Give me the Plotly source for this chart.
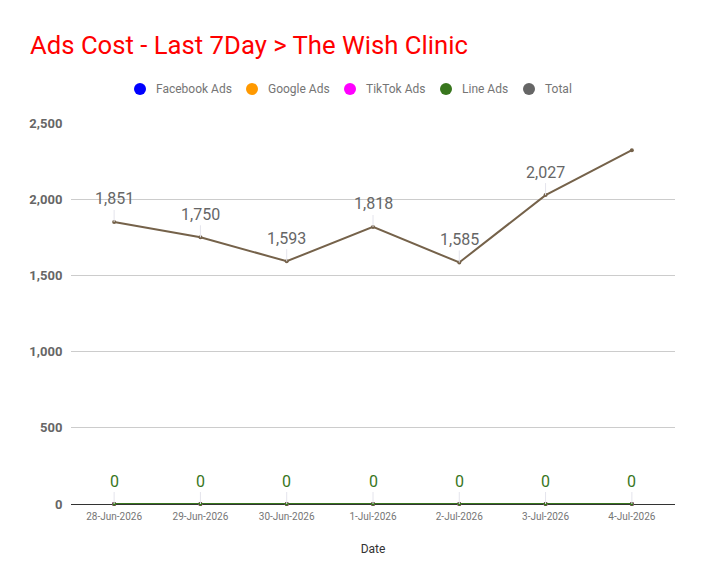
import plotly.graph_objects as go

dates = ["28-Jun-2026", "29-Jun-2026", "30-Jun-2026", "1-Jul-2026",
         "2-Jul-2026", "3-Jul-2026", "4-Jul-2026"]
facebook_ads = [0, 0, 0, 0, 0, 0, 0]
google_ads = [0, 0, 0, 0, 0, 0, 0]
tiktok_ads = [0, 0, 0, 0, 0, 0, 0]
line_ads = [0, 0, 0, 0, 0, 0, 0]
total = [1851, 1750, 1593, 1818, 1585, 2027, 2322]
# the last total point has no label in the original
total_labelled = [True, True, True, True, True, True, False]

series = [
    ("Facebook Ads", facebook_ads, "#0000ff", "#0000ff"),
    ("Google Ads", google_ads, "#ff9900", "#ff9900"),
    ("TikTok Ads", tiktok_ads, "#ff00ff", "#ff00ff"),
    ("Line Ads", line_ads, "#38761d", "#38761d"),
    ("Total", total, "#666666", "#75624a"),
]

# legend dot centres, in px from the plot's left edge (hand-placed legend)
legend_px = [69, 181, 279, 375, 458]
plot_w, plot_h = 604, 381

fig = go.Figure()
shapes = []
annotations = []
for (name, vals, legend_color, line_color), px in zip(series, legend_px):
    fig.add_trace(go.Scatter(
        x=dates, y=vals, name=name, mode="lines+markers",
        line=dict(color=line_color, width=2),
        marker=dict(size=4, color=line_color),
        showlegend=False, cliponaxis=False))
    ly = 1 + 34 / plot_h
    shapes.append(dict(
        type="circle", xref="paper", yref="paper",
        xsizemode="pixel", ysizemode="pixel",
        xanchor=px / plot_w, yanchor=ly,
        x0=-6, x1=6, y0=-6, y1=6,
        fillcolor=legend_color, line=dict(width=0)))
    annotations.append(dict(
        xref="paper", yref="paper", x=(px + 14) / plot_w, y=ly,
        xanchor="left", yanchor="middle", showarrow=False, text=name,
        font=dict(size=12, color="#757575")))

for d, v, lab in zip(dates, total, total_labelled):
    if lab:
        annotations.append(dict(
            x=d, y=v, text=f"{v:,}", showarrow=True, arrowhead=0,
            arrowwidth=1, arrowcolor="#e4e4ec", ax=0, ay=-23, standoff=0,
            font=dict(size=16, color="#666666")))
for d, v in zip(dates, line_ads):
    annotations.append(dict(
        x=d, y=v, text=f"{v:,}", showarrow=True, arrowhead=0,
        arrowwidth=1, arrowcolor="#e4e4ec", ax=0, ay=-23, standoff=0,
        font=dict(size=16, color="#38761d")))

# page body adds an 8px margin, so the figure is a bit smaller than the window
fig.update_layout(
    width=688, height=569,
    margin=dict(l=63, r=21, t=115, b=73),
    paper_bgcolor="white", plot_bgcolor="white",
    font=dict(family="Roboto", color="#757575"),
    showlegend=False,
    title=dict(text="Ads Cost - Last 7Day > The Wish Clinic",
               font=dict(size=25.7, color="#ff0000"),
               x=0.032, xanchor="left", y=0.935, yanchor="middle"),
    shapes=shapes,
    annotations=annotations,
    xaxis=dict(type="category", range=[-0.5, 6.5], showgrid=False,
               showline=True, linecolor="#333333", linewidth=1,
               layer="below traces",
               tickfont=dict(size=10, color="#757575"),
               ticks="outside", ticklen=3, tickcolor="white",
               title=dict(text="Date", font=dict(size=12, color="#333333"),
                          standoff=23)),
    yaxis=dict(range=[0, 2500], dtick=500, tickformat=",",
               showgrid=True, gridcolor="#cccccc", zeroline=False,
               tickfont=dict(size=13, color="#666666", weight="bold"),
               ticks="outside", ticklen=5, tickcolor="white"),
)

fig.write_html("out.html")
